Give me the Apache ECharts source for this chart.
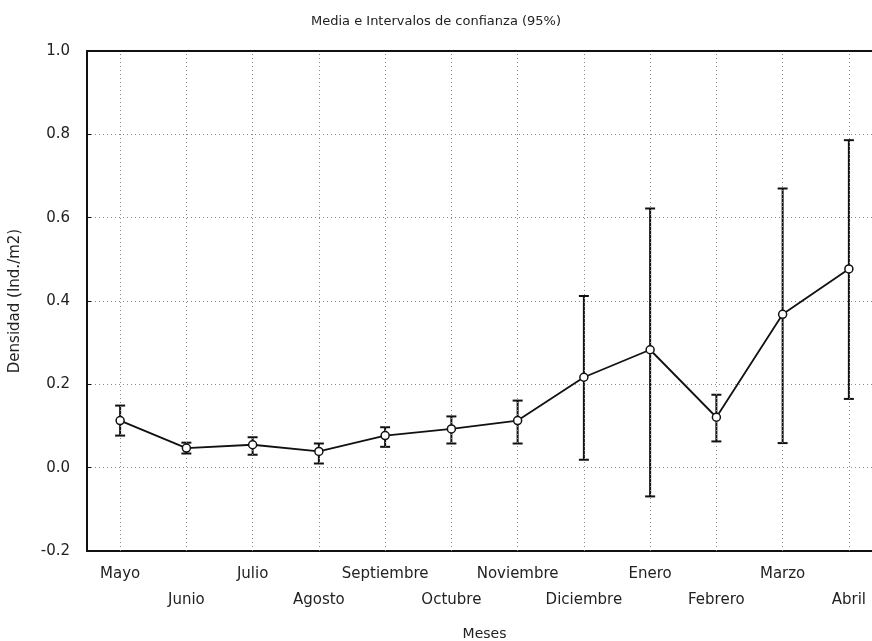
<!DOCTYPE html>
<html>
<head>
<meta charset="utf-8">
<script src="https://cdn.jsdelivr.net/npm/echarts@6/dist/echarts.min.js"></script>
<style>
  html, body { margin: 0; padding: 0; background: #fff; }
  #chart { width: 872px; height: 641px; }
</style>
</head>
<body>
<div id="chart"></div>
<script>
const months = ['Mayo', 'Junio', 'Julio', 'Agosto', 'Septiembre', 'Octubre',
  'Noviembre', 'Diciembre', 'Enero', 'Febrero', 'Marzo', 'Abril'];
const means = [0.113, 0.047, 0.055, 0.039, 0.077, 0.093, 0.113, 0.217, 0.283, 0.121, 0.368, 0.477];
const lower = [0.077, 0.034, 0.031, 0.010, 0.050, 0.058, 0.058, 0.019, -0.069, 0.063, 0.059, 0.165];
const upper = [0.149, 0.060, 0.073, 0.058, 0.097, 0.123, 0.161, 0.412, 0.622, 0.175, 0.670, 0.786];
const yTicks = [-0.2, 0.0, 0.2, 0.4, 0.6, 0.8, 1.0];

const myChart = echarts.init(document.getElementById('chart'));
const font = 'DejaVu Sans, Arial, sans-serif';

const option = {
  animation: false,
  title: {
    left: 'center',
    top: 10,
    text: 'Media e Intervalos de confianza (95%)',
    textStyle: { fontFamily: font, fontSize: 13, fontWeight: 'normal', color: '#222' }
  },
  grid: { left: 87, top: 51, width: 795, height: 500, outerBoundsMode: 'none', containLabel: false },
  xAxis: [
    {
      type: 'category',
      data: months,
      boundaryGap: true,
      name: 'Meses',
      nameLocation: 'middle',
      nameGap: 76,
      nameTextStyle: { fontFamily: font, fontSize: 14, color: '#222' },
      axisLine: { onZero: false, lineStyle: { color: '#111', width: 2 } },
      axisTick: { inside: true, alignWithLabel: true, length: 4, lineStyle: { color: '#111' } },
      axisLabel: {
        interval: 0,
        margin: 10,
        fontFamily: font,
        fontSize: 15,
        color: '#222',
        lineHeight: 26,
        formatter: (v, i) => (i % 2 === 1 ? '\n' + v : v)
      },
      splitLine: { show: false }
    },
    {
      type: 'category',
      data: months,
      position: 'top',
      boundaryGap: true,
      axisLine: { onZero: false, lineStyle: { color: '#111', width: 2 } },
      axisTick: { inside: true, alignWithLabel: true, length: 4, lineStyle: { color: '#111' } },
      axisLabel: { show: false },
      splitLine: { show: false }
    }
  ],
  yAxis: {
    type: 'value',
    min: -0.2,
    max: 1.0,
    interval: 0.2,
    name: 'Densidad (Ind./m2)',
    nameLocation: 'middle',
    nameGap: 64,
    nameTextStyle: { fontFamily: font, fontSize: 15, color: '#222' },
    axisLine: { show: true, onZero: false, lineStyle: { color: '#111', width: 2 } },
    axisTick: { show: true, inside: true, length: 4, lineStyle: { color: '#111' } },
    axisLabel: {
      fontFamily: font,
      fontSize: 15,
      color: '#222',
      margin: 17,
      formatter: v => yTicks.find(t => Math.abs(t - v) < 1e-6).toFixed(1)
    },
    splitLine: { show: true, lineStyle: { color: '#888', type: [1, 3], width: 1 } }
  },
  series: [
    {
      type: 'custom',
      name: 'IC 95%',
      silent: true,
      renderItem: function (params, api) {
        const x = api.value(0);
        const lo = api.coord([x, api.value(1)]);
        const hi = api.coord([x, api.value(2)]);
        const cap = 5;
        const style = { stroke: '#111', lineWidth: 2 };
        return {
          type: 'group',
          children: [
            { type: 'line', shape: { x1: lo[0], y1: lo[1], x2: hi[0], y2: hi[1] }, style: style },
            { type: 'line', shape: { x1: lo[0] - cap, y1: lo[1], x2: lo[0] + cap, y2: lo[1] }, style: style },
            { type: 'line', shape: { x1: hi[0] - cap, y1: hi[1], x2: hi[0] + cap, y2: hi[1] }, style: style }
          ]
        };
      },
      encode: { x: 0, y: [1, 2] },
      data: months.map((m, i) => [i, lower[i], upper[i]]),
      markLine: {
        silent: true,
        symbol: 'none',
        label: { show: false },
        lineStyle: { color: '#888', type: [1, 3], width: 1 },
        data: months.map(m => ({ xAxis: m }))
      },
      z: 3
    },
    {
      type: 'line',
      name: 'Media',
      data: means,
      symbol: 'circle',
      symbolSize: 8,
      itemStyle: { color: '#fff', borderColor: '#111', borderWidth: 1.5 },
      lineStyle: { color: '#111', width: 1.8 },
      z: 5
    }
  ]
};

myChart.setOption(option);
</script>
</body>
</html>
